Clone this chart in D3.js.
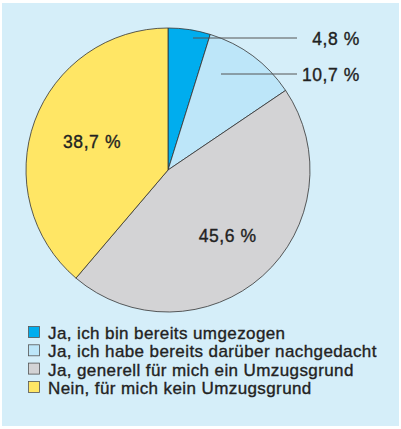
<!DOCTYPE html>
<html><head><meta charset="utf-8">
<script src="https://cdn.jsdelivr.net/npm/d3@7"></script>
<style>body{margin:0;background:#fff;} svg{display:block;}</style>
</head><body>
<svg id="c" width="401" height="429"></svg>
<script>
const categories = ["Ja, ich bin bereits umgezogen","Ja, ich habe bereits darüber nachgedacht","Ja, generell für mich ein Umzugsgrund","Nein, für mich kein Umzugsgrund"];
const values = [4.8, 10.7, 45.6, 38.7];
const labels = ["4,8 %","10,7 %","45,6 %","38,7 %"];
const colors = ["#00adee","#bde6f9","#d3d3d5","#ffe665"];

const svg = d3.select("#c");
const font = "'Liberation Sans', Arial, sans-serif";
svg.append("rect").attr("x",2).attr("y",3).attr("width",397).attr("height",423).attr("fill","#d5eef9");

const cx=168, cy=170, r=142;
const g = svg.append("g").attr("transform",`translate(${cx},${cy})`);
const pie = d3.pie().sort(null).value(d=>d);
const arcs = pie(values);
const arc = d3.arc().innerRadius(0).outerRadius(r);
g.selectAll("path").data(arcs).enter().append("path")
  .attr("d",arc).attr("fill",(d,i)=>colors[i]).attr("stroke","#333").attr("stroke-width",0.8);

function txt(sel){ return sel.attr("font-family",font).attr("fill","#222").attr("stroke","#222").attr("stroke-width",0.35); }

// leader labels for small slices
const leader = [{i:0,x1:193,y:38},{i:1,x1:221,y:74}];
leader.forEach(l=>{
  svg.append("line").attr("x1",l.x1).attr("x2",297).attr("y1",l.y).attr("y2",l.y).attr("stroke","#555").attr("stroke-width",1);
  txt(svg.append("text")).attr("x",360).attr("y",l.y+6.5).attr("text-anchor","end")
    .attr("font-size",17.5).attr("letter-spacing",0.6).text(labels[l.i]);
});
// inside labels
[{i:2,k:0.63},{i:3,k:0.57}].forEach(l=>{
  const inner = d3.arc().innerRadius(r*l.k).outerRadius(r*l.k);
  const c = inner.centroid(arcs[l.i]);
  txt(svg.append("text")).attr("x",cx+c[0]).attr("y",cy+c[1]+5.5).attr("text-anchor","middle")
    .attr("font-size",17.5).attr("letter-spacing",0.6).text(labels[l.i]);
});

// legend
const lg = svg.append("g");
categories.forEach((c,i)=>{
  const y = 333 + i*18.3;
  lg.append("rect").attr("x",28.5).attr("y",y-6.5).attr("width",11).attr("height",11)
    .attr("fill",colors[i]).attr("stroke","#555").attr("stroke-width",0.8);
  txt(lg.append("text")).attr("x",48).attr("y",y+6).attr("font-size",17).attr("letter-spacing",0.4).text(c);
});
</script>
</body></html>
